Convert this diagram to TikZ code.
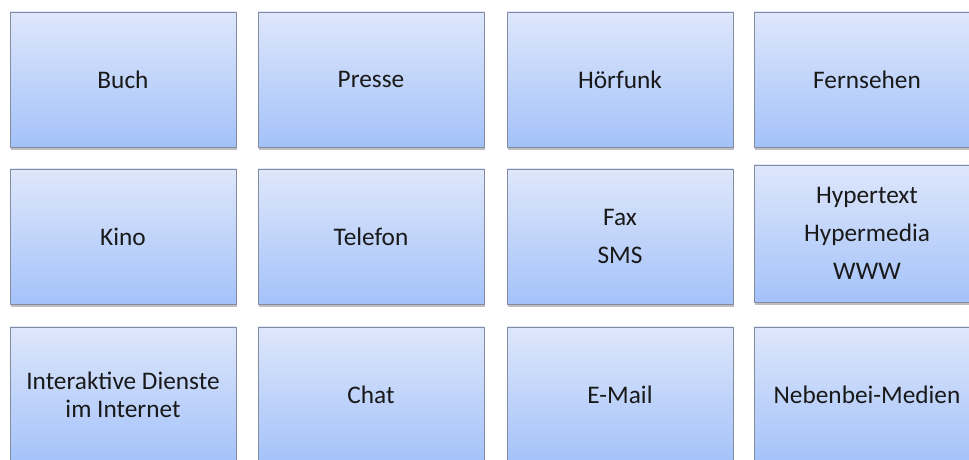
\documentclass[tikz,border=0pt]{standalone}
\usepackage{fontspec}
\setmainfont{Carlito}
\usepackage{xcolor}
\usetikzlibrary{shadows}

\definecolor{boxtop}{RGB}{222,231,251}
\definecolor{boxbot}{RGB}{164,194,249}
\definecolor{boxline}{RGB}{130,140,158}

\begin{document}
\begin{tikzpicture}[
  medium/.style={draw=boxline, line width=0.6pt, minimum width=5.65cm, minimum height=#1,
    top color=boxtop, bottom color=boxbot, align=center, text=black!90,
    font=\fontsize{18}{20}\selectfont,
    drop shadow={shadow xshift=0.6pt, shadow yshift=-2pt, fill=black, opacity=0.25}},
  medium/.default=3.375cm,
]
  \useasboundingbox (0,0) rectangle (24.225,11.5);

  % first row
  \node[medium] (buch)   at (3.075,9.5125)  {Buch};
  \node[medium] (presse) at (9.275,9.5125)  {Presse};
  \node[medium] (funk)   at (15.5,9.5125)   {Hörfunk};
  \node[medium] (tv)     at (21.675,9.5125) {Fernsehen};

  % second row
  \node[medium] (kino)   at (3.075,5.5875)  {Kino};
  \node[medium] (tel)    at (9.275,5.5875)  {Telefon};
  \node[medium] (fax)    at (15.5,5.5875)   {Fax\\[7pt]SMS};
  \node[medium=3.425cm] (hyper) at (21.675,5.6625) {Hypertext\\[7pt]Hypermedia\\[7pt]WWW};

  % third row
  \node[medium] (dienste) at (3.075,1.6375)  {Interaktive Dienste\\im Internet};
  \node[medium] (chat)    at (9.275,1.6375)  {Chat};
  \node[medium] (mail)    at (15.5,1.6375)   {E-Mail};
  \node[medium] (neben)   at (21.675,1.6375) {Nebenbei-Medien};
\end{tikzpicture}
\end{document}
